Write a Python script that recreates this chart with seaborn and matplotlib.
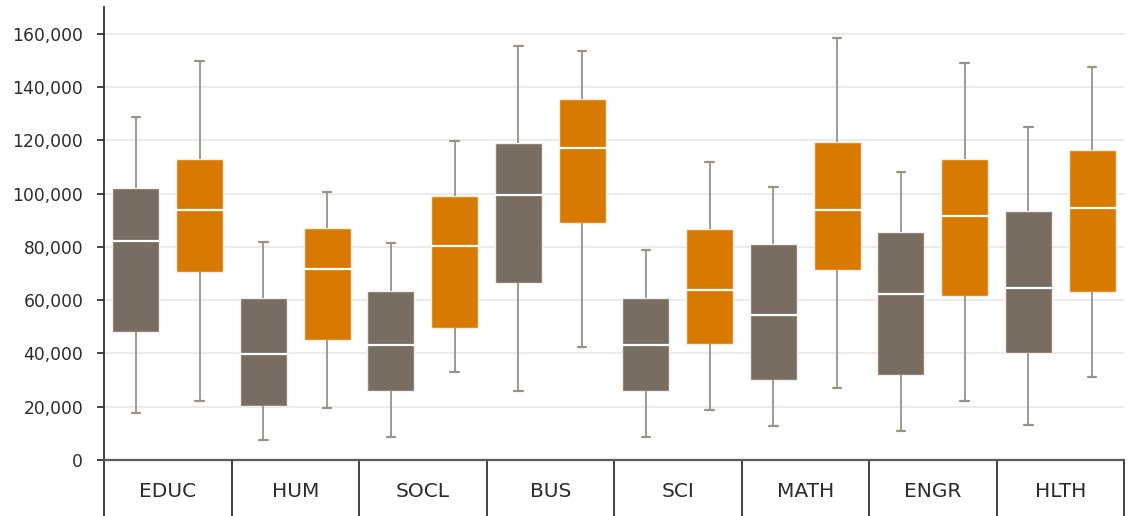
import numpy as np
import pandas as pd
import matplotlib
matplotlib.use("Agg")
import matplotlib.pyplot as plt
import matplotlib.transforms as mtransforms
from matplotlib.ticker import FuncFormatter
import seaborn as sns

# ---- data ----
categories = ["EDUC", "HUM", "SOCL", "BUS", "SCI", "MATH", "ENGR", "HLTH"]
series_names = ["Group 1", "Group 2"]

g1_low = [17600, 7500, 8600, 25900, 8600, 12700, 10900, 13100]
g1_q1 = [48000, 20200, 25900, 66300, 25900, 30000, 31800, 40100]
g1_med = [82100, 39700, 43100, 99300, 43100, 54300, 62200, 64400]
g1_q3 = [101900, 60700, 63300, 118800, 60700, 80900, 85400, 93300]
g1_high = [128900, 81700, 81300, 155500, 78700, 102300, 107900, 125100]

g2_low = [22100, 19500, 33000, 42300, 18700, 27000, 22100, 31100]
g2_q1 = [70400, 45000, 49500, 88800, 43500, 71200, 61400, 62900]
g2_med = [93700, 71600, 80200, 116900, 63700, 93700, 91400, 94400]
g2_q3 = [112800, 86900, 98900, 135300, 86600, 119500, 112800, 116200]
g2_high = [149900, 100400, 119900, 153600, 111700, 158500, 149100, 147600]

y_ticks = [0, 20000, 40000, 60000, 80000, 100000, 120000, 140000, 160000]

colors = ["#796d62", "#d97a00"]

# Build a long table: five values per box reproduce its quartiles exactly
rows = []
for name, parts in zip(series_names,
                       [(g1_low, g1_q1, g1_med, g1_q3, g1_high),
                        (g2_low, g2_q1, g2_med, g2_q3, g2_high)]):
    for i, cat in enumerate(categories):
        for arr in parts:
            rows.append({"category": cat, "series": name, "value": arr[i]})
df = pd.DataFrame(rows)

sns.set_theme(style="white")
plt.rcParams["font.family"] = ["DejaVu Sans"]

fig = plt.figure(figsize=(11.32, 5.16), dpi=100)
ax = fig.add_axes([104 / 1132, 56 / 516, 1020 / 1132, 453 / 516])

sns.boxplot(
    data=df, x="category", y="value", hue="series",
    order=categories, hue_order=series_names,
    palette=colors, saturation=1, width=1.0, gap=0.26,
    whis=(0, 100), linecolor="#9b9187", linewidth=1.3,
    legend=False, ax=ax,
    capwidths=0.065,
    boxprops={"edgecolor": "#f3eee9", "linewidth": 1.0},
    medianprops={"color": "white", "linewidth": 1.6},
    whiskerprops={"color": "#9b9187", "linewidth": 1.3},
    capprops={"color": "#9b9187", "linewidth": 1.6},
    zorder=3,
)

ax.set_xlim(-0.5, len(categories) - 0.5)
ax.set_ylim(0, 170000)
ax.set_yticks(y_ticks)
ax.yaxis.set_major_formatter(FuncFormatter(lambda v, p: f"{int(v):,}"))
ax.grid(axis="y", color="#e5e5e5", linewidth=1.1, zorder=0)
ax.set_axisbelow(True)
ax.set_xlabel("")
ax.set_ylabel("")

for s in ["top", "right"]:
    ax.spines[s].set_visible(False)
ax.spines["left"].set_color("#333333")
ax.spines["left"].set_linewidth(1.3)
ax.spines["bottom"].set_color("#5a5a5a")
ax.spines["bottom"].set_linewidth(1.6)

ax.tick_params(axis="y", left=True, length=5, width=1.3, color="#333333",
               pad=10, labelsize=12.3, labelcolor="#2e2b29")
ax.tick_params(axis="x", bottom=False, length=0, pad=16, labelsize=14.5,
               labelcolor="#2e2b29")

# separators of the category table below the axis
trans = mtransforms.blended_transform_factory(ax.transData, ax.transAxes)
bounds = np.arange(len(categories) + 1) - 0.5
ax.vlines(bounds, -56 / 453, 0, transform=trans, colors="#333333",
          linewidth=1.3, clip_on=False)

fig.savefig("out.png", dpi=100)
